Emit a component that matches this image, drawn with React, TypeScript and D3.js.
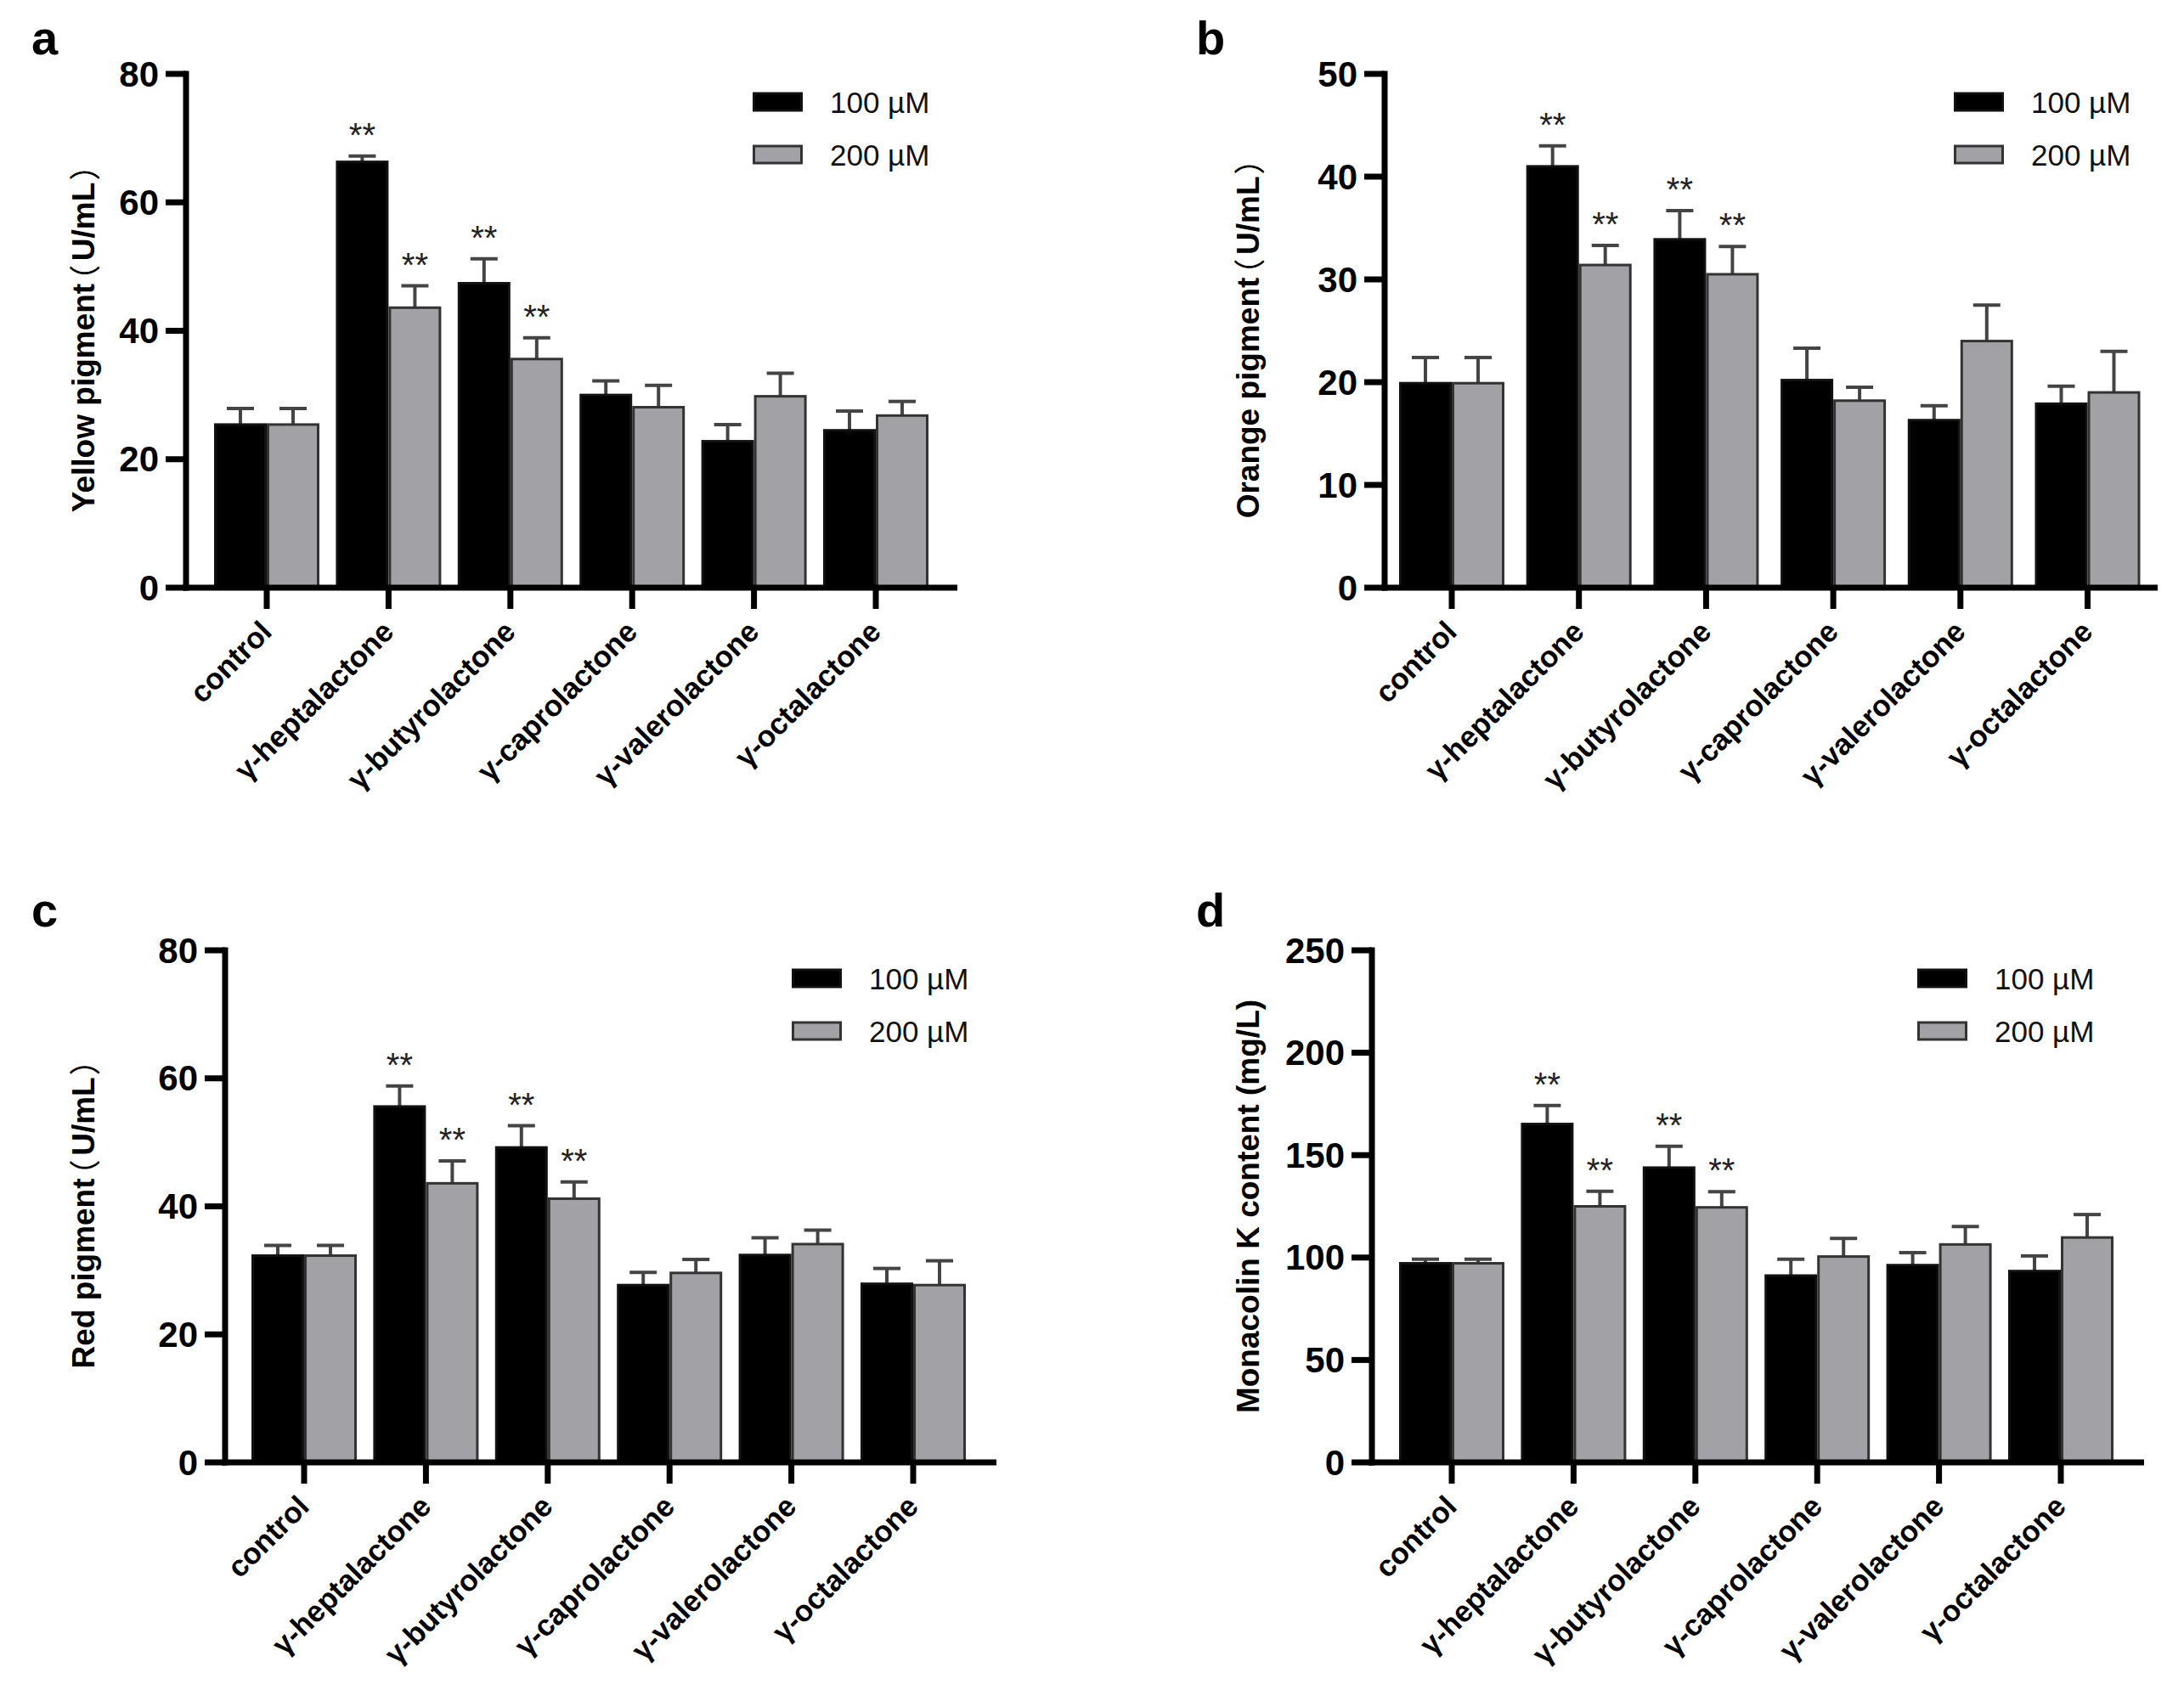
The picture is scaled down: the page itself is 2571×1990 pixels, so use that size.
import React from "react";
import * as d3 from "d3";

// ---------- data ----------
const categories = [
  "control",
  "γ-heptalactone",
  "γ-butyrolactone",
  "γ-caprolactone",
  "γ-valerolactone",
  "γ-octalactone",
];
const seriesNames = ["100 µM", "200 µM"];

const yellow100 = [25.4, 66.3, 47.4, 30.0, 22.8, 24.5];
const yellow100Sd = [2.5, 0.9, 3.8, 2.2, 2.6, 3.0];
const yellow200 = [25.4, 43.6, 35.6, 28.1, 29.8, 26.8];
const yellow200Sd = [2.5, 3.4, 3.3, 3.4, 3.6, 2.2];

const orange100 = [19.9, 41.0, 33.9, 20.2, 16.3, 17.9];
const orange100Sd = [2.5, 2.0, 2.8, 3.1, 1.4, 1.7];
const orange200 = [19.9, 31.4, 30.5, 18.2, 24.0, 19.0];
const orange200Sd = [2.5, 1.9, 2.7, 1.3, 3.5, 4.0];

const red100 = [32.3, 55.6, 49.2, 27.7, 32.4, 27.9];
const red100Sd = [1.6, 3.2, 3.4, 2.0, 2.7, 2.4];
const red200 = [32.3, 43.6, 41.2, 29.6, 34.1, 27.7];
const red200Sd = [1.6, 3.5, 2.6, 2.1, 2.2, 3.8];

const mk100 = [97.2, 165.2, 143.9, 91.2, 96.3, 93.4];
const mk100Sd = [2.0, 9.0, 10.4, 8.0, 6.1, 7.4];
const mk200 = [97.2, 125.0, 124.5, 100.5, 106.4, 109.8];
const mk200Sd = [2.0, 7.4, 7.7, 8.8, 8.8, 11.2];

const sig100 = ["", "**", "**", "", "", ""];
const sig200 = ["", "**", "**", "", "", ""];

const yellowTicks = [0, 20, 40, 60, 80];
const orangeTicks = [0, 10, 20, 30, 40, 50];
const redTicks = [0, 20, 40, 60, 80];
const mkTicks = [0, 50, 100, 150, 200, 250];

const panelLetters = ["a", "b", "c", "d"];
const yTitles = [
  "Yellow pigment（U/mL）",
  "Orange pigment（U/mL）",
  "Red pigment（U/mL）",
  "Monacolin K content (mg/L)",
];

// ---------- layout (not data) ----------
const layouts = [
  { axisX: 219, top: 87, base: 692, end: 1127, c0: 314, step: 143.4, letterX: 37, letterY: 64, titleX: 98, legendX: 886 },
  { axisX: 1630, top: 87, base: 692, end: 2540, c0: 1709, step: 149.7, letterX: 1408, letterY: 64, titleX: 1469, legendX: 2300 },
  { axisX: 265, top: 1119, base: 1722, end: 1173, c0: 358, step: 143.4, letterX: 37, letterY: 1091, titleX: 98, legendX: 932 },
  { axisX: 1615, top: 1119, base: 1722, end: 2524, c0: 1709, step: 143.4, letterX: 1408, letterY: 1091, titleX: 1469, legendX: 2257 },
];

const panelsData = [
  { ticks: yellowTicks, v1: yellow100, s1: yellow100Sd, v2: yellow200, s2: yellow200Sd },
  { ticks: orangeTicks, v1: orange100, s1: orange100Sd, v2: orange200, s2: orange200Sd },
  { ticks: redTicks, v1: red100, s1: red100Sd, v2: red200, s2: red200Sd },
  { ticks: mkTicks, v1: mk100, s1: mk100Sd, v2: mk200, s2: mk200Sd },
];

const FONT = "'Liberation Sans', Arial, Helvetica, sans-serif";
const GRAY = "#a2a1a6";
const EDGE = "#333333";
const ERR = "#444444";
const BAR_W = 62;
const CAP_W = 32;

function Title({ text, x, y }: { text: string; x: number; y: number }) {
  const parts = text.split(/([（）])/).filter((p) => p.length > 0);
  return (
    <text
      x={0}
      y={0}
      transform={`translate(${x},${y}) rotate(-90)`}
      textAnchor="middle"
      dominantBaseline="central"
      fontFamily={FONT}
      fontWeight={700}
      fontSize={37}
      fill="#000"
    >
      {parts.map((p, i) => {
        if (p === "（")
          return (
            <tspan key={i} fontFamily="'Noto Sans CJK SC', sans-serif" fontWeight={400} dx="-0.4em">
              {p}
            </tspan>
          );
        if (p === "）")
          return (
            <tspan key={i} fontFamily="'Noto Sans CJK SC', sans-serif" fontWeight={400} dx="0.05em">
              {p}
            </tspan>
          );
        const prev = parts[i - 1];
        return (
          <tspan key={i} dx={prev === "（" ? "0.12em" : "0"}>
            {p}
          </tspan>
        );
      })}
    </text>
  );
}

function Panel({ idx }: { idx: number }) {
  const L = layouts[idx];
  const D = panelsData[idx];
  const maxTick = D.ticks[D.ticks.length - 1];
  const y = d3.scaleLinear().domain([0, maxTick]).range([L.base, L.top]);
  const x = d3
    .scalePoint<string>()
    .domain(categories)
    .range([L.c0, L.c0 + L.step * (categories.length - 1)]);

  const series = [
    { vals: D.v1, sds: D.s1, sig: sig100, fill: "#000", stroke: "#111", off: -BAR_W },
    { vals: D.v2, sds: D.s2, sig: sig200, fill: GRAY, stroke: EDGE, off: 0 },
  ];

  return (
    <g>
      <text x={L.letterX} y={L.letterY} fontFamily={FONT} fontWeight={700} fontSize={56}>
        {panelLetters[idx]}
      </text>

      {series.map((s, si) =>
        categories.map((c, i) => {
          const cx = x(c)!;
          const x0 = cx + s.off;
          const yTop = y(s.vals[i]);
          const yErr = y(s.vals[i] + s.sds[i]);
          const bc = x0 + BAR_W / 2;
          return (
            <g key={`${si}-${i}`}>
              <line x1={bc} x2={bc} y1={yTop} y2={yErr} stroke={ERR} strokeWidth={4} />
              <line x1={bc - CAP_W / 2} x2={bc + CAP_W / 2} y1={yErr} y2={yErr} stroke={ERR} strokeWidth={4} />
              <rect
                x={x0 + 1.5}
                y={yTop}
                width={BAR_W - 3}
                height={L.base - yTop}
                fill={s.fill}
                stroke={s.stroke}
                strokeWidth={3}
              />
              {s.sig[i] && (
                <text
                  x={bc}
                  y={yErr - 34 + 23}
                  textAnchor="middle"
                  fontFamily={FONT}
                  fontSize={40}
                  fill="#222"
                >
                  {s.sig[i]}
                </text>
              )}
            </g>
          );
        })
      )}

      <line x1={L.axisX} x2={L.axisX} y1={L.top - 3.5} y2={L.base + 3.5} stroke="#000" strokeWidth={7} />
      {D.ticks.map((t) => (
        <g key={t}>
          <line x1={L.axisX - 24} x2={L.axisX} y1={y(t)} y2={y(t)} stroke="#000" strokeWidth={7} />
          <text
            x={L.axisX - 32}
            y={y(t)}
            textAnchor="end"
            dominantBaseline="central"
            fontFamily={FONT}
            fontWeight={700}
            fontSize={42}
          >
            {t}
          </text>
        </g>
      ))}

      <line x1={L.axisX - 3.5} x2={L.end} y1={L.base} y2={L.base} stroke="#000" strokeWidth={7} />
      {categories.map((c) => (
        <g key={c}>
          <line x1={x(c)!} x2={x(c)!} y1={L.base} y2={L.base + 25} stroke="#000" strokeWidth={7} />
          <text
            transform={`translate(${x(c)! + 8},${L.base + 54}) rotate(-45)`}
            textAnchor="end"
            fontFamily={FONT}
            fontWeight={700}
            fontSize={35}
          >
            {c}
          </text>
        </g>
      ))}

      <Title text={yTitles[idx]} x={L.titleX} y={(L.top + L.base) / 2} />

      {seriesNames.map((n, i) => {
        const cy = L.top + 33 + i * 62;
        return (
          <g key={n}>
            <rect
              x={L.legendX + 1.5}
              y={cy - 10}
              width={56}
              height={20}
              fill={i === 0 ? "#000" : GRAY}
              stroke={i === 0 ? "#111" : EDGE}
              strokeWidth={3}
            />
            <text
              x={L.legendX + 91}
              y={cy}
              dominantBaseline="central"
              fontFamily={FONT}
              fontSize={35}
              fill="#111"
            >
              {n}
            </text>
          </g>
        );
      })}
    </g>
  );
}

export default function App() {
  return (
    <div style={{ position: "absolute", left: 0, top: 0 }}>
      <svg width={2571} height={1990} viewBox="0 0 2571 1990" style={{ display: "block", background: "#fff" }}>
        <rect width={2571} height={1990} fill="#fff" />
        {[0, 1, 2, 3].map((i) => (
          <Panel key={i} idx={i} />
        ))}
      </svg>
    </div>
  );
}
